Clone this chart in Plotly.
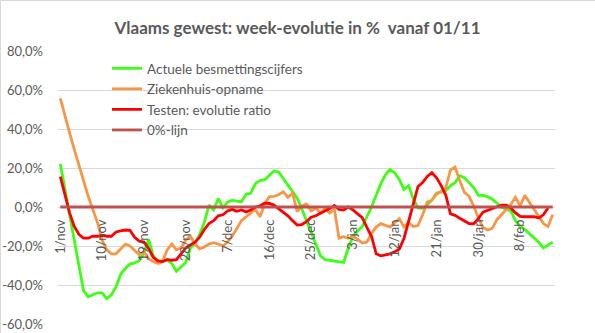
import pandas as pd
import plotly.graph_objects as go

# Daily categories from 1 November to 15 February, Dutch short month names
MONTHS_NL = ["jan", "feb", "mrt", "apr", "mei", "jun", "jul", "aug", "sep", "okt", "nov", "dec"]
dates = pd.date_range("2020-11-01", "2021-02-15", freq="D")
categories = [f"{d.day}/{MONTHS_NL[d.month - 1]}" for d in dates]

# Week-on-week evolution in %
besmettingen = [
    22, 9, -3, -18, -31, -43, -46, -45, -44, -44,
    -47, -45, -41, -34.5, -31.5, -29.3, -28.7, -27.5, -23.5, -16.5,
    -25, -27.5, -27.7, -27, -29, -33, -30.5, -28.5, -21, -18.6,
    -14, -8, 1, -1.5, 4.4, -0.5, 2.5, 3.5, 3, 2.7,
    6.5, 7, 12, 13.5, 14, 16, 18.5, 18, 14.7, 11.5,
    8.3, 4.5, -1, -7, -13, -19, -25, -27, -27.3, -27.5,
    -28, -28.4, -21, -15, -12.3, -10, -5, 0, 6, 12,
    16.5, 19.3, 17.5, 14, 9, 11, 4, -0.5, -0.7, 1,
    3.5, 6.5, 8, 8.5, 11, 12.5, 16, 15, 12.5, 10,
    6, 6, 5.3, 4, 2, 0, -1.3, -2, -7, -10,
    -11.5, -13.5, -15.5, -18, -21, -19.5, -18,
]

ziekenhuis = [
    55.7, 47.5, 38, 29.5, 21, 13.5, 5.5, -1.5, -8, -17,
    -22, -24, -24, -21.5, -19, -20, -22, -24.5, -23, -26.5,
    -28, -29, -28, -22, -19, -22, -21, -17, -15, -19,
    -21.5, -20.5, -19, -18.3, -19, -20, -18, -15, -11, -7,
    -5, -3, -1.3, -5, 1.5, 5.3, 5.5, 6.3, 7.8, 5,
    7, -2.4, 0.5, 1.5, -2, -0.5, -3, -1, -3, -1,
    -16, -15.2, -16, -15, -16.5, -18.5, -18, -13.5, -10.3, -8.5,
    -9.5, -10.3, -8, -6, -10.2, -8, -10, -9.5, -4, 2.5,
    3.5, 7.2, 7.6, 10, 19, 20.5, 13.3, 7.5, 5.5, 0.5,
    -5.5, -10.5, -11.8, -11, -6.5, -4, -1, 1.3, 5, 0.5,
    6, 2.5, -1, -4.8, -8.5, -10, -4,
]

testen = [
    15.6, 6.5, -3, -10, -14, -16, -16, -15, -15, -14.5,
    -15, -15, -12.8, -12.3, -11.8, -12, -15.5, -17.5, -18, -21.3,
    -25.8, -27.6, -28, -27, -27.3, -27, -24, -21, -19.5, -18,
    -15.5, -11.5, -8.5, -7, -4.5, -4, -2, -1.2, -2.2, -1.5,
    -2.5, -1.5, 0, 0.6, 2, 1.8, 1, -0.8, -2.5, -4.5,
    -7, -9.2, -9, -7.5, -5.2, -4.5, -3.2, -2.2, -0.8, 0.8,
    -1.2, -1.5, 0, -1.5, -3.5, -5.5, -10.4, -15, -24, -25,
    -24.5, -24, -23, -21.5, -16, -7.5, 1, 10.5, 12.5, 15.7,
    17.6, 15, 11, 6, -3.5, -4.3, -5.8, -7.3, -8.5, -8.6,
    -6, -2.6, -1.6, -0.9, 0, 1, 1, -0.5, -3, -4.8,
    -5, -5, -5, -5.6, -4, -0.5, None,
]

nullijn = [0] * len(categories)

y_ticks = [-60, -40, -20, 0, 20, 40, 60, 80]
y_tick_labels = ["-60,0%", "-40,0%", "-20,0%", "0,0%", "20,0%", "40,0%", "60,0%", "80,0%"]

FONT = "Lato"
TEXT_COLOR = "#595959"
GRID_COLOR = "#D9D9D9"

fig = go.Figure()
series = [
    ("Actuele besmettingscijfers", besmettingen, "#3CFF14"),
    ("Ziekenhuis-opname", ziekenhuis, "#F79646"),
    ("Testen: evolutie ratio", testen, "#FF0000"),
    ("0%-lijn", nullijn, "#C0504D"),
]
for name, values, color in series:
    fig.add_trace(go.Scatter(
        x=categories, y=values, name=name, mode="lines",
        line=dict(color=color, width=2.8),
        connectgaps=False,
    ))

# Plot area geometry in pixels (used to place legend and frame lines)
W, H = 595, 333
ML, MR, MT, MB = 58, 40, 51, 9
PW, PH = W - ML - MR, H - MT - MB


def px_x(px):
    return (px - ML) / PW


def px_y(py):
    return (H - MB - py) / PH


fig.update_layout(
    width=W, height=H, autosize=False,
    margin=dict(l=ML, r=MR, t=MT, b=MB, pad=0, autoexpand=False),
    paper_bgcolor="white", plot_bgcolor="white",
    font=dict(family=FONT, size=13, color=TEXT_COLOR),
    title=dict(
        text="Vlaams gewest: week-evolutie in % \u00a0vanaf 01/11",
        x=0.5, xref="container", xanchor="center",
        y=1 - 28 / H, yref="container", yanchor="middle",
        font=dict(family=FONT, size=17, color=TEXT_COLOR, weight=700),
    ),
    showlegend=True,
    legend=dict(
        x=px_x(107), y=px_y(53), xanchor="left", yanchor="top",
        bgcolor="rgba(0,0,0,0)", borderwidth=0,
        font=dict(family=FONT, size=13.5, color=TEXT_COLOR),
        traceorder="normal",
    ),
    xaxis=dict(
        type="category",
        range=[-0.5, len(categories) - 0.5],
        tickmode="array",
        tickvals=categories[::9],
        ticktext=categories[::9],
        tickangle=-90,
        anchor="free",
        position=(0 - y_ticks[0]) / (y_ticks[-1] - y_ticks[0]),
        showgrid=False, zeroline=False, showline=False,
        ticks="", ticklabelstandoff=9, automargin=False,
        tickfont=dict(family=FONT, size=13, color=TEXT_COLOR),
    ),
    yaxis=dict(
        range=[y_ticks[0], y_ticks[-1]],
        tickmode="array",
        tickvals=y_ticks,
        ticktext=y_tick_labels,
        showgrid=True, gridcolor=GRID_COLOR, gridwidth=1,
        zeroline=False, showline=False,
        ticks="", ticklabelstandoff=14, automargin=False,
        tickfont=dict(family=FONT, size=13, color=TEXT_COLOR),
    ),
    shapes=[
        dict(type="line", xref="paper", yref="paper",
             x0=px_x(0.5), x1=px_x(W), y0=px_y(0.5), y1=px_y(0.5),
             line=dict(color=GRID_COLOR, width=1)),
        dict(type="line", xref="paper", yref="paper",
             x0=px_x(0.5), x1=px_x(0.5), y0=px_y(0.5), y1=px_y(H),
             line=dict(color=GRID_COLOR, width=1)),
    ],
)

fig.write_html("out.html")
